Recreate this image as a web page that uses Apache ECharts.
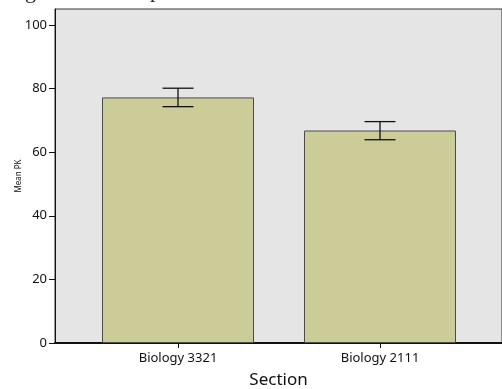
<!DOCTYPE html>
<html>
<head>
<meta charset="utf-8">
<script src="https://cdn.jsdelivr.net/npm/echarts@6/dist/echarts.min.js"></script>
<style>
  html, body { margin: 0; padding: 0; background: #ffffff; }
  #chart { width: 502px; height: 389px; }
</style>
</head>
<body>
<div id="chart"></div>
<script>
// Mean PK score per course section, with error bars
const sections = ['Biology 3321', 'Biology 2111'];
const meanPK = [77.2, 66.8];
const errLow = [74.3, 63.9];
const errHigh = [80.1, 69.6];
const yTicks = [0, 20, 40, 60, 80, 100];

const positions = sections.map((_, i) => i + 1);
const barData = positions.map((p, i) => [p, meanPK[i]]);
const errData = positions.map((p, i) => [p, errLow[i], errHigh[i]]);

const font = '"Noto Sans", "Open Sans", sans-serif';
const chart = echarts.init(document.getElementById('chart'), null, { renderer: 'canvas' });

chart.setOption({
  animation: false,
  backgroundColor: '#ffffff',
  graphic: [
    { type: 'text', left: 25, top: -19, style: { text: 'g', font: '22px "Liberation Serif", serif', fill: '#222' } },
    { type: 'text', left: 150, top: -20, style: { text: 'p', font: '22px "Liberation Serif", serif', fill: '#222' } }
  ],
  grid: {
    left: 55, top: 9, right: 0, bottom: 46,
    outerBoundsMode: 'none',
    containLabel: false,
    show: true,
    backgroundColor: '#e5e5e5',
    borderColor: '#333333',
    borderWidth: 1
  },
  xAxis: {
    type: 'value',
    min: 0.391,
    max: 2.604,
    name: 'Section',
    nameLocation: 'middle',
    nameGap: 29,
    nameMoveOverlap: false,
    nameTextStyle: { fontFamily: font, fontSize: 17, color: '#111' },
    splitLine: { show: false },
    axisLine: { show: true, onZero: false, lineStyle: { color: '#111', width: 2 } },
    axisTick: { show: true, length: 5, lineStyle: { color: '#111' }, customValues: positions },
    axisLabel: {
      customValues: positions,
      margin: 9,
      fontFamily: font, fontSize: 13, color: '#111',
      formatter: v => sections[Math.round(v) - 1] || ''
    }
  },
  yAxis: {
    type: 'value',
    min: 0,
    max: 105,
    name: 'Mean PK',
    nameLocation: 'middle',
    nameGap: 32,
    nameMoveOverlap: false,
    nameTextStyle: { fontFamily: font, fontSize: 8, color: '#111' },
    splitLine: { show: false },
    axisLine: { show: true, lineStyle: { color: '#111', width: 1 } },
    axisTick: { show: true, length: 6, lineStyle: { color: '#111' }, customValues: yTicks },
    axisLabel: { customValues: yTicks, margin: 8, fontFamily: font, fontSize: 13, color: '#111' }
  },
  series: [
    {
      type: 'bar',
      data: barData,
      barWidth: 152,
      itemStyle: { color: '#cccc99', borderColor: '#4a4a4a', borderWidth: 1 }
    },
    {
      type: 'custom',
      data: errData,
      z: 10,
      renderItem: function (params, api) {
        const x = api.value(0);
        const lo = api.coord([x, api.value(1)]);
        const hi = api.coord([x, api.value(2)]);
        const half = 15.5;
        const style = { stroke: '#111', lineWidth: 1.3 };
        return {
          type: 'group',
          children: [
            { type: 'line', shape: { x1: lo[0], y1: lo[1], x2: hi[0], y2: hi[1] }, style: style },
            { type: 'line', shape: { x1: hi[0] - half, y1: hi[1], x2: hi[0] + half, y2: hi[1] }, style: style },
            { type: 'line', shape: { x1: lo[0] - half, y1: lo[1], x2: lo[0] + half, y2: lo[1] }, style: style }
          ]
        };
      }
    }
  ]
});
</script>
</body>
</html>
